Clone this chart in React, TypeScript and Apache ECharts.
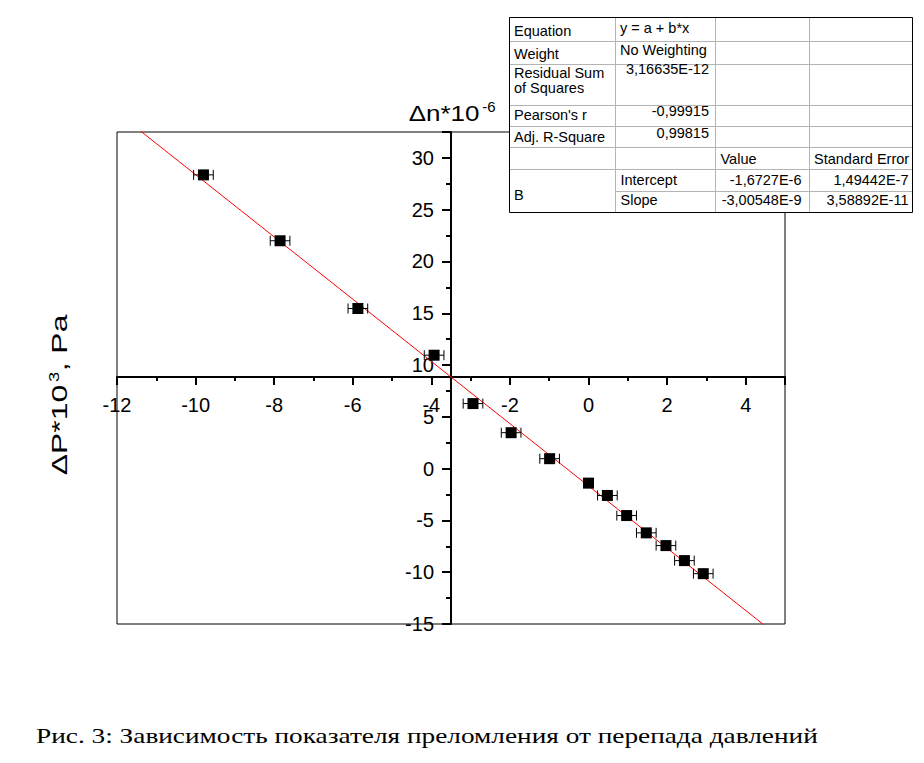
import { useEffect, useRef } from "react";
import * as echarts from "echarts";

// ---- data ----
const X_VALUES = [-9.8, -7.85, -5.87, -3.93, -2.94, -1.97, -0.99, 0.0, 0.48, 0.97, 1.47, 1.97, 2.44, 2.92];
const Y_VALUES = [28.36, 22.0, 15.46, 10.95, 6.28, 3.47, 0.96, -1.4, -2.59, -4.53, -6.2, -7.43, -8.88, -10.14];
const X_ERRORS = [0.25, 0.25, 0.25, 0.25, 0.25, 0.25, 0.25, 0, 0.25, 0.25, 0.25, 0.25, 0.25, 0.25];

const FIT_INTERCEPT = -1.6727; // x 1e-6
const FIT_SLOPE = -3.00548; // x 1e-6 per 1e3 Pa
const FIT_X = [-12, 5];

const X_RANGE = [-12, 5];
const Y_RANGE = [-15, 32.5];
const X_INTERVAL = 2;
const Y_INTERVAL = 5;
const AXIS_CROSS_X = -3.5;

const Y_AXIS_NAME = "\u0394n*10";
const Y_AXIS_NAME_SUP = "-6";
const X_AXIS_NAME = "\u0394P*10";
const X_AXIS_NAME_SUP = "3";
const X_AXIS_NAME_UNIT = ", Pa";
const CAPTION = "Рис. 3: Зависимость показателя преломления от перепада давлений";

const STAT_LABELS = ["Equation", "Weight", "Residual Sum\nof Squares", "Pearson's r", "Adj. R-Square"];
const STAT_VALUES = ["y = a + b*x", "No Weighting", "3,16635E-12", "-0,99915", "0,99815"];
const PARAM_GROUP = "B";
const PARAM_HEADERS = ["Value", "Standard Error"];
const PARAM_NAMES = ["Intercept", "Slope"];
const PARAM_VALUES = ["-1,6727E-6", "-3,00548E-9"];
const PARAM_ERRORS = ["1,49442E-7", "3,58892E-11"];

const SANS = "'Liberation Sans', Arial, sans-serif";
const SERIF = "'Liberation Serif', 'Times New Roman', serif";

function buildTable(): any[] {
  const L = 509, R = 912, T = 17, B = 212;
  const c1 = 615.5, c2 = 715.5, c3 = 809.5;
  const rows = [41, 64, 105, 126, 147, 169];
  const fs = 14.5;
  const grey = "#b4b4b4";
  const els: any[] = [];
  els.push({ type: "rect", shape: { x: L, y: T, width: R - L, height: B - T }, style: { fill: "#fff", stroke: "none" }, z: 100 });
  for (const cx of [c1, c2, c3]) {
    els.push({ type: "line", shape: { x1: cx, y1: T, x2: cx, y2: B }, style: { stroke: grey, lineWidth: 1 }, z: 101 });
  }
  for (const ry of rows) {
    els.push({ type: "line", shape: { x1: L, y1: ry + 0.5, x2: R, y2: ry + 0.5 }, style: { stroke: grey, lineWidth: 1 }, z: 101 });
  }
  els.push({ type: "line", shape: { x1: c1, y1: 191.5, x2: R, y2: 191.5 }, style: { stroke: grey, lineWidth: 1 }, z: 101 });
  els.push({ type: "rect", shape: { x: L + 0.5, y: T + 0.5, width: R - L, height: B - T }, style: { fill: "none", stroke: "#000", lineWidth: 1 }, z: 102 });

  const txt = (text: string, x: number, y: number, align: string) => ({
    type: "text",
    x,
    y,
    z: 103,
    style: { text, x: 0, y: 0, fill: "#000", fontSize: fs, fontFamily: SANS, align, verticalAlign: "middle", lineHeight: 15 },
  });
  const labelY = [31, 53.5, 80.8, 114.5, 136.5];
  const valueY = [27.7, 50, 69, 111, 133];
  STAT_LABELS.forEach((s, i) => els.push(txt(s, 514, labelY[i], "left")));
  STAT_VALUES.forEach((s, i) => {
    if (i < 2) els.push(txt(s, 620, valueY[i], "left"));
    else els.push(txt(s, 709, valueY[i], "right"));
  });
  els.push(txt(PARAM_GROUP, 514, 195, "left"));
  els.push(txt(PARAM_HEADERS[0], 720.5, 158.5, "left"));
  els.push(txt(PARAM_HEADERS[1], 814, 158.5, "left"));
  const py = [180, 199.5];
  PARAM_NAMES.forEach((s, i) => els.push(txt(s, 620.5, py[i], "left")));
  PARAM_VALUES.forEach((s, i) => els.push(txt(s, 801.5, py[i], "right")));
  PARAM_ERRORS.forEach((s, i) => els.push(txt(s, 908.5, py[i], "right")));
  return els;
}

export default function App() {
  const ref = useRef<HTMLDivElement>(null);

  useEffect(() => {
    document.body.style.margin = "0";
    if (!ref.current) return;
    const chart = echarts.init(ref.current, null, { renderer: "svg" });

    const points = X_VALUES.map((x, i) => [x, Y_VALUES[i]]);
    const errData = X_VALUES.map((x, i) => [x, Y_VALUES[i], X_ERRORS[i]]);
    const fitData = FIT_X.map((x) => [x, FIT_INTERCEPT + FIT_SLOPE * x]);

    const axisLabelStyle = { color: "#000", fontSize: 20, fontFamily: SANS };

    const option: any = {
      animation: false,
      backgroundColor: "#fff",
      grid: { left: 117, right: 139, top: 132, bottom: 139, show: true, borderColor: "#000", borderWidth: 1, backgroundColor: "transparent" },
      xAxis: {
        type: "value",
        min: X_RANGE[0],
        max: X_RANGE[1],
        interval: X_INTERVAL,
        position: "bottom",
        axisLine: { show: true, onZero: false, lineStyle: { color: "#000", width: 2 } },
        axisTick: { show: true, length: 8, lineStyle: { color: "#000", width: 2 } },
        minorTick: { show: true, splitNumber: 2, length: 4, lineStyle: { color: "#000", width: 2 } },
        axisLabel: { ...axisLabelStyle, margin: 18, showMaxLabel: false, showMinLabel: true },
        splitLine: { show: false },
        minorSplitLine: { show: false },
      },
      yAxis: {
        type: "value",
        min: Y_RANGE[0],
        max: Y_RANGE[1],
        interval: Y_INTERVAL,
        position: "left",
        axisLine: { show: true, onZero: false, lineStyle: { color: "#000", width: 2 } },
        axisTick: { show: true, length: 9, lineStyle: { color: "#000", width: 2 } },
        minorTick: { show: true, splitNumber: 2, length: 5, lineStyle: { color: "#000", width: 2 } },
        axisLabel: { ...axisLabelStyle, margin: 17, showMaxLabel: false, showMinLabel: true },
        splitLine: { show: false },
        minorSplitLine: { show: false },
      },
      series: [
        {
          type: "line",
          data: fitData,
          symbol: "none",
          clip: true,
          lineStyle: { color: "#ff0000", width: 1 },
          z: 2,
          silent: true,
        },
        {
          type: "custom",
          data: errData,
          encode: { x: 0, y: 1 },
          z: 3,
          clip: true,
          renderItem: (_params: any, api: any) => {
            const x = api.value(0);
            const y = api.value(1);
            const e = api.value(2);
            if (!e) return { type: "group", children: [] };
            const l = api.coord([x - e, y]);
            const r = api.coord([x + e, y]);
            const h = 5;
            const st = { stroke: "#000", lineWidth: 1 };
            return {
              type: "group",
              children: [
                { type: "line", shape: { x1: l[0], y1: l[1], x2: r[0], y2: r[1] }, style: st },
                { type: "line", shape: { x1: l[0], y1: l[1] - h, x2: l[0], y2: l[1] + h }, style: st },
                { type: "line", shape: { x1: r[0], y1: r[1] - h, x2: r[0], y2: r[1] + h }, style: st },
              ],
            };
          },
        },
        {
          type: "scatter",
          data: points,
          symbol: "rect",
          symbolSize: 11,
          itemStyle: { color: "#000", opacity: 1 },
          z: 4,
        },
      ],
      graphic: [],
    };

    chart.setOption(option);

    // Place the crossing axes at the chosen crossing point, using the chart's own scales
    const crossY = FIT_INTERCEPT + FIT_SLOPE * AXIS_CROSS_X;
    const cross = chart.convertToPixel({ gridIndex: 0 }, [AXIS_CROSS_X, crossY]) as number[];
    const corner = chart.convertToPixel({ gridIndex: 0 }, [X_RANGE[0], Y_RANGE[0]]) as number[];
    const xOffset = -(corner[1] - cross[1]);
    const yOffset = -(cross[0] - corner[0]);

    const graphic: any[] = [
      {
        type: "text",
        x: 444,
        y: 113,
        scaleX: 1.18,
        z: 50,
        style: { text: Y_AXIS_NAME, fill: "#000", fontSize: 22, fontFamily: SANS, align: "center", verticalAlign: "middle" },
      },
      {
        type: "text",
        x: 489,
        y: 106,
        z: 50,
        style: { text: Y_AXIS_NAME_SUP, fill: "#000", fontSize: 15, fontFamily: SANS, align: "center", verticalAlign: "middle" },
      },
      {
        type: "text",
        x: 59,
        y: 430,
        rotation: Math.PI / 2,
        scaleX: 1.45,
        z: 50,
        style: { text: X_AXIS_NAME, fill: "#000", fontSize: 22, fontFamily: SANS, align: "center", verticalAlign: "middle" },
      },
      {
        type: "text",
        x: 54,
        y: 377,
        rotation: Math.PI / 2,
        scaleX: 1.3,
        z: 50,
        style: { text: X_AXIS_NAME_SUP, fill: "#000", fontSize: 14, fontFamily: SANS, align: "center", verticalAlign: "middle" },
      },
      {
        type: "text",
        x: 59,
        y: 343,
        rotation: Math.PI / 2,
        scaleX: 1.45,
        z: 50,
        style: { text: X_AXIS_NAME_UNIT, fill: "#000", fontSize: 22, fontFamily: SANS, align: "center", verticalAlign: "middle" },
      },
      {
        type: "text",
        x: 36,
        y: 736,
        scaleX: 1.27,
        z: 50,
        style: { text: CAPTION, fill: "#000", fontSize: 21.5, fontFamily: SERIF, align: "left", verticalAlign: "middle" },
      },
      ...buildTable(),
    ];

    chart.setOption({ xAxis: { offset: xOffset }, yAxis: { offset: yOffset }, graphic });

    return () => {
      chart.dispose();
    };
  }, []);

  return <div ref={ref} style={{ width: 924, height: 763 }} />;
}
